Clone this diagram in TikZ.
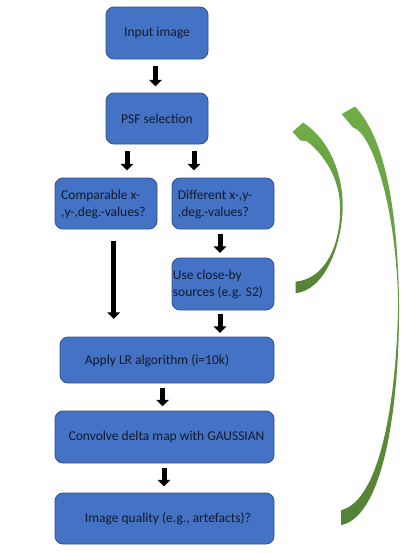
\documentclass[tikz,border=0pt]{standalone}
\usepackage{fontspec}
\setmainfont{Carlito}
\usetikzlibrary{arrows.meta,calc}
\definecolor{boxblue}{HTML}{4472C4}
\definecolor{boxline}{HTML}{2F528F}
\definecolor{gtop}{HTML}{70AD47}
\definecolor{gbot}{HTML}{548235}
\definecolor{txt}{HTML}{141A2A}
\begin{document}
\begin{tikzpicture}[x=1pt,y=-1pt,
  box/.style={draw=boxline, line width=0.8pt, fill=boxblue, rounded corners=8pt, inner sep=0pt, font=\fontsize{13.5}{17}\selectfont, text=txt},
  lbl/.style={inner sep=0pt, font=\fontsize{13.5}{17}\selectfont, text=txt},
  blk/.style={line width=5pt, -{Triangle[width=12.5pt,length=6.5pt]}, black},
  garrow/.style={top color=gtop, bottom color=gbot, draw=none}]
\useasboundingbox (0,0) rectangle (415,554);

% boxes
\node[box, minimum width=102pt, minimum height=52pt] (in) at (157,33) {Input image};
\node[box, minimum width=102pt, minimum height=51pt] (psf) at (157,118.5) {PSF selection};
\node[box, minimum width=102pt, minimum height=51pt] (cmp) at (106,203.5) {};
\node[box, minimum width=102pt, minimum height=51pt] (diff) at (223,203.5) {};
\node[box, minimum width=102pt, minimum height=52pt] (use) at (223,284) {};
\node[box, minimum width=214pt, minimum height=46pt] (apply) at (167,360) {};
\node[box, minimum width=219pt, minimum height=52pt] (conv) at (164.5,437) {};
\node[box, minimum width=219pt, minimum height=51pt] (iq) at (164.5,518.5) {};

% texts
\node[lbl, align=left, anchor=west] (cmpt) at (61,204) {Comparable x-\\,y-,deg.-values?};
\node[lbl, align=left, anchor=west] (difft) at (177.7,204) {Different x-,y-\\,deg.-values?};
\node[lbl, align=left, anchor=west] (uset) at (172.7,284.5) {Use close-by\\sources (e.g. S2)};
\node[lbl] (applyt) at (157,360.5) {Apply LR algorithm (i=10k)};
\node[lbl] (convt) at (166.5,437) {Convolve delta map with GAUSSIAN};
\node[lbl] (iqt) at (168,519) {Image quality (e.g., artefacts)?};

% black block arrows
\draw[blk] ($(in.south)+(-1.5,7)$) -- ($(psf.north)+(-1.5,-6.3)$);
\draw[blk] ($(psf.south)+(-30,7)$) -- ($(cmp.north)+(21,-7.3)$);
\draw[blk] ($(psf.south)+(37,7)$) -- ($(diff.north)+(-29,-7.3)$);
\draw[blk] ($(diff.south)+(-3,4.3)$) -- ($(use.north)+(-3,-4.7)$);
\draw[blk] ($(cmp.south)+(7.7,12)$) -- ($(apply.north)+(-53.3,-17.7)$);
\draw[blk] ($(use.south)+(-3,3.3)$) -- ($(apply.north)+(53,-3.7)$);
\draw[blk] ($(apply.south)+(-4.3,4.3)$) -- ($(conv.north)+(-1.8,-4.3)$);
\draw[blk] ($(conv.south)+(-0.5,4.3)$) -- ($(iq.north)+(-0.5,-6.3)$);

% green curved arrows
\shade[garrow] (303,122.5) .. controls (330,140) and (343,175) .. (342.7,207)
  .. controls (342,245) and (325,290) .. (295.5,293.3)
  -- (295.5,281.7)
  .. controls (325,279) and (341,245) .. (340,207)
  .. controls (340,180) and (325,155) .. (306.5,141)
  -- (300.5,140.5) -- (292.5,132) -- cycle;
\shade[garrow] (355,106.5) .. controls (380,133) and (397,190) .. (399,300)
  .. controls (400,400) and (385,515) .. (341.7,525)
  -- (341.7,510)
  .. controls (380,500) and (397,400) .. (398.2,300)
  .. controls (395,200) and (372,140) .. (357,129.5)
  -- (353,127.5) -- (341.7,114) -- cycle;
\end{tikzpicture}
\end{document}
